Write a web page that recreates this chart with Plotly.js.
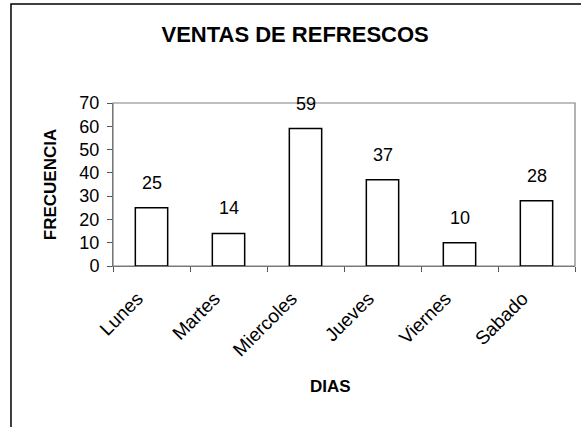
<!DOCTYPE html>
<html>
<head>
<meta charset="utf-8">
<script src="https://cdn.plot.ly/plotly-3.0.1.min.js"></script>
<style>html,body{margin:0;padding:0;background:#fff;}#chart{width:581px;height:427px;}</style>
</head>
<body>
<div id="chart"></div>
<script>
var dias = ["Lunes", "Martes", "Miercoles", "Jueves", "Viernes", "Sabado"];
var frecuencia = [25, 14, 59, 37, 10, 28];
var yTicks = [0, 10, 20, 30, 40, 50, 60, 70];

var FONT = "Liberation Sans, Arial, sans-serif";

var trace = {
  type: "bar",
  x: dias,
  y: frecuencia,
  marker: {color: "#ffffff", line: {color: "#000000", width: 1.5}},
  hoverinfo: "x+y"
};

var annotations = dias.map(function (d, i) {
  return {
    x: d, y: frecuencia[i], xref: "x", yref: "y",
    text: String(frecuencia[i]), showarrow: false,
    yanchor: "bottom", yshift: 13,
    font: {family: FONT, size: 18, color: "#000"}
  };
});
annotations.push({
  xref: "paper", yref: "paper", x: 0.47, y: -0.742,
  xanchor: "center", yanchor: "middle", showarrow: false,
  text: "<b>DIAS</b>", font: {family: FONT, size: 17, color: "#000"}
});

var layout = {
  width: 581, height: 427,
  margin: {l: 113, r: 6, t: 103, b: 161},
  paper_bgcolor: "#ffffff",
  plot_bgcolor: "#ffffff",
  showlegend: false,
  bargap: 0.58,
  title: {
    text: "<b>VENTAS DE REFRESCOS</b>",
    font: {family: FONT, size: 22, color: "#000"},
    xref: "container", x: 0.508, xanchor: "center",
    yref: "container", y: 0.92, yanchor: "middle"
  },
  xaxis: {
    type: "category",
    tickangle: -45,
    tickson: "boundaries",
    ticks: "outside", ticklen: 5, tickcolor: "#555",
    ticklabelstandoff: 13,
    ticklabelshift: -14,
    showline: true, linecolor: "#777", linewidth: 1,
    showgrid: false,
    tickfont: {family: FONT, size: 19, color: "#000"}
  },
  yaxis: {
    range: [0, 70],
    tickvals: yTicks,
    ticks: "outside", ticklen: 5, tickcolor: "#555",
    ticklabelstandoff: 4,
    showline: true, linecolor: "#777", linewidth: 1,
    showgrid: false, zeroline: false,
    tickfont: {family: FONT, size: 18, color: "#000"},
    title: {text: "<b>FRECUENCIA</b>", font: {family: FONT, size: 17, color: "#000"}, standoff: 18}
  },
  annotations: annotations,
  shapes: [
    {type: "rect", xref: "paper", yref: "paper", x0: 0, x1: 1, y0: 0, y1: 1,
     line: {color: "#808080", width: 1.2}, fillcolor: "rgba(0,0,0,0)", layer: "below"},
    {type: "rect", xref: "paper", yref: "paper", x0: -0.2208, x1: 1.2, y0: -1.2, y1: 1.607,
     line: {color: "#000", width: 1.5}, fillcolor: "rgba(0,0,0,0)"}
  ]
};

Plotly.newPlot("chart", [trace], layout, {displayModeBar: false, staticPlot: true});
</script>
</body>
</html>
